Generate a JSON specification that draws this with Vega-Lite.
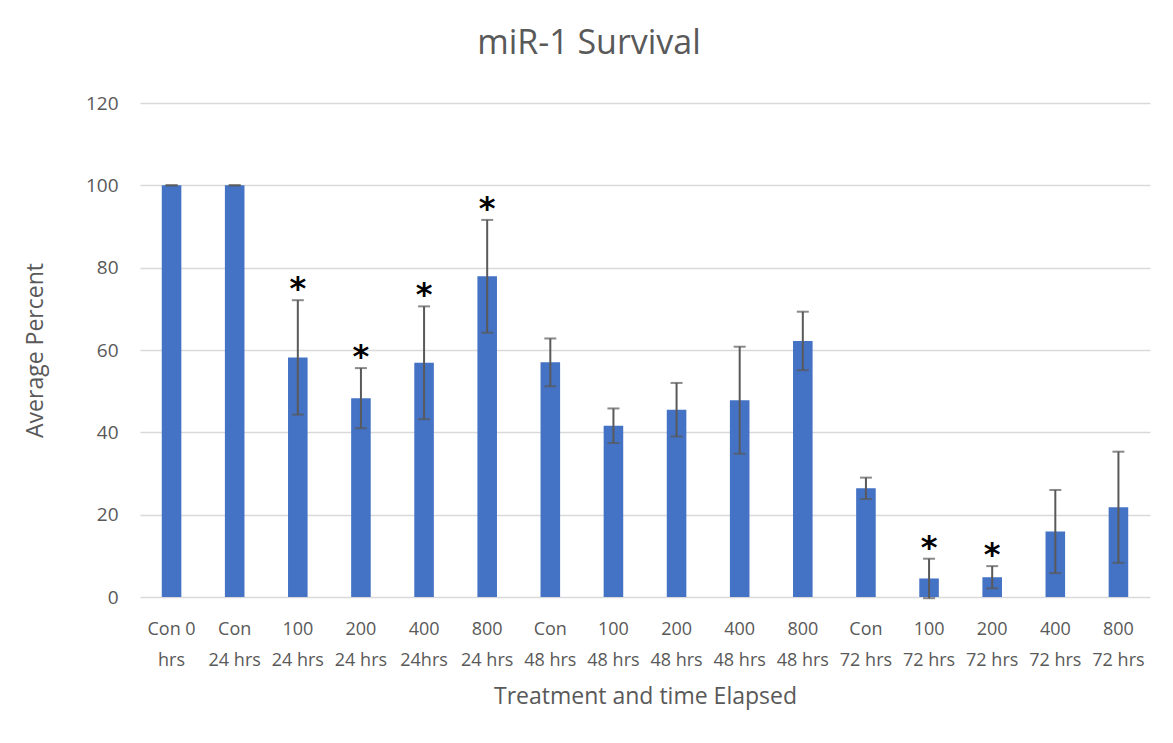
{
  "$schema": "https://vega.github.io/schema/vega-lite/v6.json",
  "autosize": "none",
  "width": 1010,
  "height": 494,
  "padding": {"left": 140, "top": 103, "right": 23, "bottom": 146},
  "background": "white",
  "title": {"text": "miR-1 Survival", "fontSize": 34, "font": "Open Sans", "fontWeight": "normal", "color": "#595959", "offset": 33, "dx": -56},
  "data": {"values": [
    {"group": "Con 0\nhrs", "mean": 100, "err": 0, "star": ""},
    {"group": "Con\n24 hrs", "mean": 100, "err": 0, "star": ""},
    {"group": "100\n24 hrs", "mean": 58.2, "err": 13.9, "star": "*"},
    {"group": "200\n24 hrs", "mean": 48.3, "err": 7.3, "star": "*"},
    {"group": "400\n24hrs", "mean": 56.9, "err": 13.7, "star": "*"},
    {"group": "800\n24 hrs", "mean": 77.9, "err": 13.7, "star": "*"},
    {"group": "Con\n48 hrs", "mean": 57.0, "err": 5.8, "star": ""},
    {"group": "100\n48 hrs", "mean": 41.6, "err": 4.2, "star": ""},
    {"group": "200\n48 hrs", "mean": 45.5, "err": 6.5, "star": ""},
    {"group": "400\n48 hrs", "mean": 47.8, "err": 13.0, "star": ""},
    {"group": "800\n48 hrs", "mean": 62.2, "err": 7.1, "star": ""},
    {"group": "Con\n72 hrs", "mean": 26.4, "err": 2.6, "star": ""},
    {"group": "100\n72 hrs", "mean": 4.5, "err": 4.8, "star": "*"},
    {"group": "200\n72 hrs", "mean": 4.8, "err": 2.7, "star": "*"},
    {"group": "400\n72 hrs", "mean": 15.9, "err": 10.1, "star": ""},
    {"group": "800\n72 hrs", "mean": 21.8, "err": 13.5, "star": ""}
  ]},
  "transform": [
    {"calculate": "datum.mean + datum.err", "as": "hi"},
    {"calculate": "datum.mean - datum.err", "as": "lo"}
  ],
  "encoding": {
    "x": {
      "field": "group", "type": "nominal", "sort": null,
      "scale": {"paddingInner": 0.69},
      "axis": {
        "title": "Treatment and time Elapsed",
        "titleFont": "Open Sans", "titleFontSize": 23, "titleFontWeight": "normal", "titleColor": "#595959", "titlePadding": 16,
        "labelExpr": "split(datum.value, '\\n')",
        "labelAngle": 0, "labelFont": "Open Sans", "labelFontSize": 18, "labelColor": "#595959",
        "labelLineHeight": 31, "labelPadding": 23,
        "ticks": false, "domain": false, "labelOverlap": false
      }
    }
  },
  "layer": [
    {
      "mark": {"type": "bar", "color": "#4472c4"},
      "encoding": {
        "y": {
          "field": "mean", "type": "quantitative",
          "scale": {"domain": [0, 120]},
          "axis": {
            "title": "Average Percent", "titleFont": "Open Sans", "titleFontSize": 23, "titleFontWeight": "normal", "titleColor": "#595959", "titlePadding": 38,
            "values": [0, 20, 40, 60, 80, 100, 120],
            "labelFont": "Open Sans", "labelFontSize": 19, "labelColor": "#595959", "labelPadding": 22,
            "ticks": false, "domain": false,
            "grid": true, "gridColor": "#d9d9d9", "gridWidth": 1.5
          }
        }
      }
    },
    {
      "mark": {"type": "rule", "color": "#595959", "strokeWidth": 2},
      "encoding": {"y": {"field": "lo", "type": "quantitative"}, "y2": {"field": "hi"}}
    },
    {
      "mark": {"type": "tick", "color": "#595959", "thickness": 2, "size": 12},
      "encoding": {"y": {"field": "hi", "type": "quantitative"}}
    },
    {
      "mark": {"type": "tick", "color": "#595959", "thickness": 2, "size": 12},
      "encoding": {"y": {"field": "lo", "type": "quantitative"}}
    },
    {
      "mark": {"type": "text", "font": "DejaVu Sans", "fontSize": 32, "fontWeight": "bold", "color": "black", "baseline": "bottom", "dy": 6},
      "encoding": {"y": {"field": "hi", "type": "quantitative"}, "text": {"field": "star"}}
    }
  ],
  "config": {"view": {"stroke": null}}
}
